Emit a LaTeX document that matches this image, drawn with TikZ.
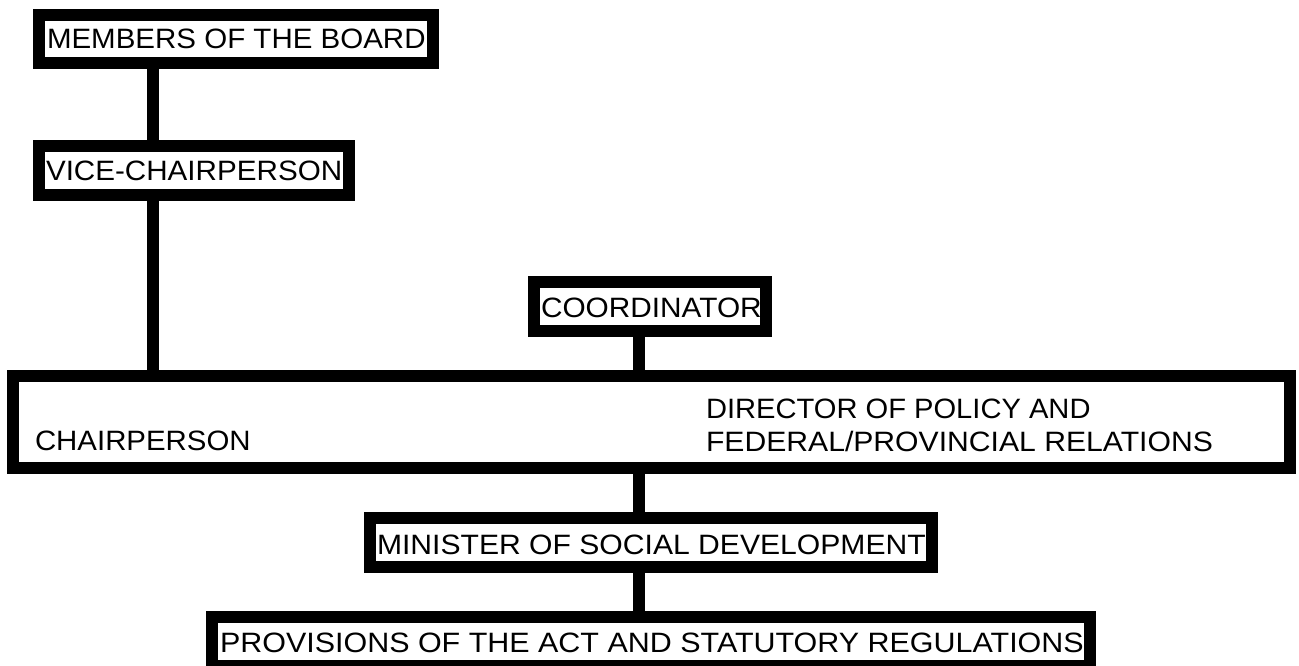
\documentclass[tikz,border=0pt]{standalone}
\usepackage{fontspec}
\setmainfont{Liberation Sans}[FakeStretch=1.04]
\newcommand\stretchtxt[2]{\scalebox{#1}[1]{#2}}
\begin{document}
\begin{tikzpicture}[x=1pt,y=-1pt,
  orgbox/.style={draw=black,line width=12pt,rectangle,inner sep=0pt,fill=white},
  conn/.style={draw=black,line width=12pt},
  lbl/.style={anchor=base west,inner sep=0pt,outer sep=0pt,font=\fontsize{28}{30}\selectfont}]
\useasboundingbox (0,0) rectangle (1299,666);
\clip (0,0) rectangle (1299,666);
% column coordinates for connectors
\coordinate (cL) at (153,0);
\coordinate (cC) at (638.5,0);
% boxes
\node[orgbox,minimum width=394pt,minimum height=48pt] (members) at (236,39) {};
\node[orgbox,minimum width=310pt,minimum height=49pt] (vice) at (194,170.5) {};
\node[orgbox,minimum width=232pt,minimum height=49pt] (coord) at (650,306.5) {};
\node[orgbox,minimum width=1277pt,minimum height=91.5pt] (big) at (651.5,421.75) {};
\node[orgbox,minimum width=562pt,minimum height=49.5pt] (minister) at (651,542.25) {};
\node[orgbox,minimum width=878pt,minimum height=49pt] (prov) at (651,641.5) {};
% connectors
\draw[conn] (members.south -| cL) -- (vice.north -| cL);
\draw[conn] (vice.south -| cL) -- (big.north -| cL);
\draw[conn] (coord.south -| cC) -- (big.north -| cC);
\draw[conn] (big.south -| cC) -- (minister.north -| cC);
\draw[conn] (minister.south -| cC) -- (prov.north -| cC);
% labels
\node[lbl] (tmembers) at (47,49) {\stretchtxt{1.013}{MEMBERS OF THE BOARD}};
\node[lbl] (tvice) at (46,180) {\stretchtxt{1.017}{VICE-CHAIRPERSON}};
\node[lbl] (tcoord) at (541,317) {\stretchtxt{1.023}{COORDINATOR}};
\node[lbl] (tchair) at (35,450) {\stretchtxt{1.01}{CHAIRPERSON}};
\node[lbl] (tdir1) at (706,418) {\stretchtxt{1.0}{DIRECTOR OF POLICY AND}};
\node[lbl] (tdir2) at (706,451) {\stretchtxt{1.035}{FEDERAL/PROVINCIAL RELATIONS}};
\node[lbl] (tmin) at (377,554) {\stretchtxt{1.034}{MINISTER OF SOCIAL DEVELOPMENT}};
\node[lbl] (tprov) at (220,652) {\stretchtxt{1.046}{PROVISIONS OF THE ACT AND STATUTORY REGULATIONS}};
\end{tikzpicture}
\end{document}
